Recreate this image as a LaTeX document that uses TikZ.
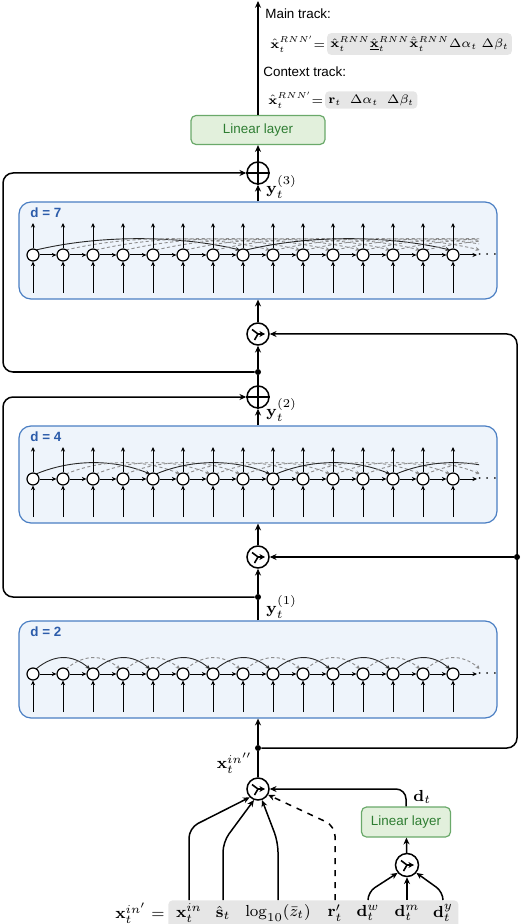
\RequirePackage{fix-cm}
\documentclass[tikz,border=0pt]{standalone}
\usepackage{amsmath,amssymb}
\usepackage[no-math]{fontspec}
\setmainfont{Liberation Sans}
\usepackage{tikz}
\usetikzlibrary{arrows.meta,positioning,calc}
\definecolor{blockcolor}{RGB}{238,244,251}
\definecolor{blockedge}{RGB}{74,126,195}
\definecolor{blocklabel}{RGB}{44,92,170}
\definecolor{linfill}{RGB}{226,240,220}
\definecolor{linedge}{RGB}{106,169,106}
\definecolor{lintext}{RGB}{46,125,50}
\definecolor{formgray}{RGB}{230,230,230}

\begin{document}
\begin{tikzpicture}[x=0.5pt, y=-0.5pt,
    font=\fontsize{8}{9.6}\selectfont,
    >={Stealth[length=3.4pt, width=3pt]},
    txt/.style={font=\fontsize{6.7}{8}\selectfont},
    track/.style={font=\fontsize{6.2}{7.4}\selectfont},
    conn/.style={line width=0.75pt},
    linear/.style={rectangle, draw=linedge, rounded corners=2.5pt, fill=linfill, text=lintext, align=center, line width=0.6pt, font=\fontsize{6.7}{8}\selectfont},
    block/.style={rectangle, draw=blockedge, rounded corners=6pt, fill=blockcolor, line width=0.6pt, minimum width=239pt, minimum height=48.5pt},
    blocklbl/.style={text=blocklabel, font=\fontsize{6.7}{8}\selectfont\bfseries, anchor=west, inner sep=0pt},
    cell/.style={circle, draw, fill=white, line width=0.6pt, minimum size=6pt, inner sep=0pt},
    gate/.style={circle, draw, fill=white, line width=0.75pt, minimum size=11pt, inner sep=0pt},
    junction/.style={circle, fill, inner sep=0pt, minimum size=3pt},
    formula/.style={fill=formgray, rounded corners=2pt, inner sep=1.6pt},
    cellarrow/.style={line width=0.5pt, -{Stealth[length=2.3pt, width=2.1pt]}},
    solidarc/.style={draw=black!85, line width=0.45pt, -{Stealth[length=2.2pt, width=2pt]}},
    dasharc/.style={draw=black!45, line width=0.45pt, dash pattern=on 1.6pt off 1.2pt, -{Stealth[length=2.2pt, width=2pt]}},
]
    \useasboundingbox (0,0) rectangle (522,924);

    % Output side
    \node[linear, minimum width=67pt, minimum height=14.5pt] (lin1) at (258,130) {Linear layer};
    \coordinate (top) at (258,1);
    \node[txt, anchor=west, inner sep=0pt] (maintxt) at (265,14) {Main track:};
    \node[track, anchor=west, inner sep=0pt] (mainlhs) at (270,44) {$\hat{\mathbf{x}}_t^{RNN'}{=}$};
    \node[track, formula, right=0.5pt of mainlhs] (mainrhs) {$\hat{\mathbf{x}}_t^{RNN}\hat{\underline{\mathbf{x}}}_t^{RNN}\hat{\bar{\mathbf{x}}}_t^{RNN}\Delta\alpha_t\;\Delta\beta_t$};
    \node[txt, anchor=west, inner sep=0pt] (ctxtxt) at (263,72) {Context track:};
    \node[track, anchor=west, inner sep=0pt] (ctxlhs) at (268,100) {$\hat{\mathbf{x}}_t^{RNN'}{=}$};
    \node[track, formula, right=0.5pt of ctxlhs] (ctxrhs) {$\mathbf{r}_t\;\;\Delta\alpha_t\;\;\Delta\beta_t$};

    % Sums, gates and junctions
    \node[gate] (sum3) at (258,173) {};
    \node[gate] (sum2) at (258,397) {};
    \node[gate] (mix3) at (258,334) {};
    \node[gate] (mix2) at (258,557) {};
    \node[gate] (mix1) at (258,789) {};
    \node[gate, minimum size=11.5pt] (mixd) at (407,865) {};
    \node[junction] (j3) at (258,372) {};
    \node[junction] (j2) at (258,597) {};
    \node[junction] (j1) at (258,748) {};
    \node[junction] (jr) at (517,557) {};

    % Dilated blocks
    \foreach \dil/\ytop/\hasout in {7/202/1, 4/426/1, 2/621/0} {
        \node[block] (blk\dil) at (258,\ytop+48.5) {};
        \node[blocklbl] (lbl\dil) at (30,\ytop+11) {d = \dil};
        \pgfmathsetmacro{\yc}{\ytop+53}
        \foreach \k in {0,...,27} { \coordinate (c\dil-\k) at (33+30*\k,\yc); }
        \begin{scope}
            \clip (19,\ytop) rectangle (479,\ytop+97);
            \foreach \k in {0,...,13} {
                \pgfmathtruncatemacro{\j}{\k+\dil}
                \pgfmathtruncatemacro{\rem}{mod(\k,\dil)}
                \ifnum\rem=0
                    \draw[solidarc] ([shift={(3,-5)}]c\dil-\k) .. controls +(9*\dil,-15) and +(-9*\dil,-15) .. ([shift={(-3,-5)}]c\dil-\j);
                \else
                    \draw[dasharc] ([shift={(3,-5)}]c\dil-\k) .. controls +(9*\dil,-15) and +(-9*\dil,-15) .. ([shift={(-3,-5)}]c\dil-\j);
                \fi
            }
        \end{scope}
        \foreach \k in {0,...,14} {
            \node[cell] (n\dil-\k) at (c\dil-\k) {};
            \coordinate (in\dil-\k) at (33+30*\k,\ytop+91);
            \draw[cellarrow] (in\dil-\k) -- (n\dil-\k);
            \ifnum\hasout=1
                \coordinate (out\dil-\k) at (33+30*\k,\ytop+21);
                \draw[cellarrow] (n\dil-\k) -- (out\dil-\k);
            \fi
        }
        \node[inner sep=0pt, anchor=west] (dots\dil) at (477,\yc) {$\cdots$};
        \foreach \k [evaluate=\k as \nxt using int(\k+1)] in {0,...,13} {
            \draw[cellarrow] (n\dil-\k) -- (n\dil-\nxt);
        }
        \draw[cellarrow] (n\dil-14) -- (dots\dil);
    }

    % Merge symbols and sums
    \foreach \g in {mix3, mix2, mix1, mixd} {
        \draw[line width=0.8pt] ([shift={(-6,-4.5)}]\g.center) -- (\g.center) -- ([shift={(-3.5,6)}]\g.center);
        \draw[line width=0.8pt, -{Stealth[length=2.8pt, width=3pt]}] (\g.center) -- ([shift={(7,0)}]\g.center);
    }
    \foreach \s in {sum3, sum2} {
        \draw[line width=0.75pt] (\s.north) -- (\s.south) (\s.west) -- (\s.east);
    }

    % Labels
    \node[anchor=west, inner sep=0pt] (ylab3) at (266,187) {$\mathbf{y}_t^{(3)}$};
    \node[anchor=west, inner sep=0pt] (ylab2) at (266,410) {$\mathbf{y}_t^{(2)}$};
    \node[anchor=west, inner sep=0pt] (ylab1) at (266,607) {$\mathbf{y}_t^{(1)}$};
    \node[anchor=east, inner sep=0pt] (xinlab) at (253,763) {$\mathbf{x}_t^{in''}$};

    % Main stack
    \draw[conn,->] (lin1) -- (top);
    \draw[conn,->] (sum3) -- (lin1);
    \draw[conn,->] (blk7) -- (sum3);
    \draw[conn,->] (mix3) -- (blk7);
    \draw[conn,->] (j3) -- (mix3);
    \draw[conn] (sum2) -- (j3);
    \draw[conn,->] (blk4) -- (sum2);
    \draw[conn,->] (mix2) -- (blk4);
    \draw[conn,->] (j2) -- (mix2);
    \draw[conn] (blk2) -- (j2);
    \draw[conn,->] (j1) -- (blk2);
    \draw[conn] (mix1) -- (j1);

    % Skip connections
    \draw[conn,->,rounded corners=5pt] (j3) -- ++(-255,0) |- (sum3);
    \draw[conn,->,rounded corners=5pt] (j2) -- ++(-255,0) |- (sum2);
    \draw[conn,->,rounded corners=5pt] (j1) -- ++(259,0) |- (mix3);
    \draw[conn,->] (jr) -- (mix2);

    % Input side
    \node[formula, minimum width=145pt, minimum height=14pt, anchor=north west] (inbox) at (168,900) {};
    \node[anchor=east, inner sep=0pt] (inlhs) at (165,913) {$\mathbf{x}_t^{in'}=$};
    \node[inner sep=0pt] (in-x) at (189,913) {$\mathbf{x}_t^{in}$};
    \node[inner sep=0pt] (in-s) at (223,913) {$\hat{\mathbf{s}}_t$};
    \node[inner sep=0pt] (in-z) at (278,913) {$\log_{10}(\bar{z}_t)$};
    \node[inner sep=0pt] (in-r) at (335,913) {$\mathbf{r}'_t$};
    \node[inner sep=0pt] (in-dw) at (368,913) {$\mathbf{d}_t^{w}$};
    \node[inner sep=0pt] (in-dm) at (407,913) {$\mathbf{d}_t^{m}$};
    \node[inner sep=0pt] (in-dy) at (443,913) {$\mathbf{d}_t^{y}$};
    \node[linear, minimum width=44.5pt, minimum height=15pt] (lin2) at (406,822) {Linear layer};
    \node[anchor=west, inner sep=0pt] (dlab) at (413,797) {$\mathbf{d}_t$};

    \draw[conn,->,rounded corners=5pt] (in-x.north |- inbox.north) -- ++(0,-72) -- (mix1.225);
    \draw[conn,->,rounded corners=5pt] (in-s.north |- inbox.north) -- ++(0,-58) -- (mix1.250);
    \draw[conn,->,rounded corners=5pt] (in-z.north |- inbox.north) -- ++(0,-58) -- (mix1.290);
    \draw[conn,->,dashed,rounded corners=5pt] (in-r.north |- inbox.north) -- ++(0,-74) -- (mix1.330);
    \draw[conn,->,rounded corners=4pt] (in-dw.north |- inbox.north) -- ++(0,-8) -- (mixd.220);
    \draw[conn,->] (in-dm.north |- inbox.north) -- (mixd);
    \draw[conn,->,rounded corners=4pt] (in-dy.north |- inbox.north) -- ++(0,-8) -- (mixd.320);
    \draw[conn,->] (mixd) -- (lin2);
    \draw[conn,->,rounded corners=5pt] (lin2) |- (mix1);
\end{tikzpicture}
\end{document}
